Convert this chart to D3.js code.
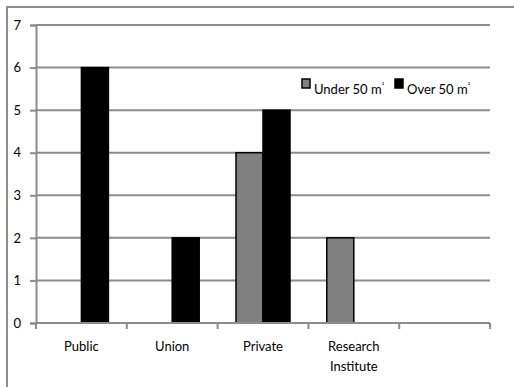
<!DOCTYPE html>
<html>
<head>
<meta charset="utf-8">
<script src="https://cdn.jsdelivr.net/npm/d3@7"></script>
<style>
  html, body { margin: 0; padding: 0; background: #fff; }
  svg { display: block; }
  text { font-family: Lato, "Open Sans", sans-serif; fill: #000; }
</style>
</head>
<body>
<svg id="chart" width="514" height="387"></svg>
<script>
// Number of facilities by type and floor area
const categories = ["Public", "Union", "Private", "Research\nInstitute", ""];
const seriesNames = ["Under 50 m", "Over 50 m"];
const underValues = [0, 0, 4, 2, 0];
const overValues = [6, 2, 5, 0, 0];
const yTicks = [0, 1, 2, 3, 4, 5, 6, 7];

const colors = ["#808080", "#000000"];
const gridColor = "#8c8c8c";

const svg = d3.select("#chart");
const margin = { left: 36, right: 24, top: 25, bottom: 64 };
const width = 514, height = 387;

// outer frame (extends past the right and bottom edges)
svg.append("rect")
  .attr("x", 7).attr("y", 7)
  .attr("width", 520).attr("height", 400)
  .attr("fill", "none")
  .attr("stroke", gridColor)
  .attr("stroke-width", 2);

const x0 = d3.scaleBand()
  .domain(d3.range(categories.length))
  .range([margin.left, width - margin.right])
  .paddingInner(0.405)
  .paddingOuter(0.2025);

const x1 = d3.scaleBand()
  .domain(d3.range(seriesNames.length))
  .range([0, x0.bandwidth()]);

const y = d3.scaleLinear()
  .domain([0, 7])
  .range([height - margin.bottom, margin.top]);

// horizontal gridlines
svg.append("g")
  .selectAll("line")
  .data(yTicks.filter(d => d > 0))
  .join("line")
  .attr("x1", margin.left).attr("x2", width - margin.right)
  .attr("y1", d => y(d)).attr("y2", d => y(d))
  .attr("stroke", gridColor)
  .attr("stroke-width", 2);

// y axis
const yAxis = svg.append("g")
  .attr("transform", `translate(${margin.left},0)`)
  .call(d3.axisLeft(y).tickValues(yTicks).tickSize(6).tickPadding(9).tickFormat(d3.format("d")));
yAxis.select(".domain").attr("stroke", gridColor).attr("stroke-width", 2);
yAxis.selectAll(".tick line").attr("stroke", gridColor).attr("stroke-width", 2);
yAxis.selectAll(".tick text")
  .style("font-family", "Lato, sans-serif")
  .style("font-size", "13px").attr("fill", "#000");

// bars
const rows = categories.map((c, i) => ({ i, values: [underValues[i], overValues[i]] }));
const groups = svg.append("g")
  .selectAll("g")
  .data(rows)
  .join("g")
  .attr("transform", d => `translate(${x0(d.i)},0)`);

groups.selectAll("rect")
  .data(d => d.values.map((v, s) => ({ v, s })).filter(e => e.v > 0))
  .join("rect")
  .attr("x", e => x1(e.s))
  .attr("y", e => y(e.v))
  .attr("width", x1.bandwidth())
  .attr("height", e => y(0) - y(e.v))
  .attr("fill", e => colors[e.s])
  .attr("stroke", "#000")
  .attr("stroke-width", 1.5);

// x axis with ticks between categories
const xAxisG = svg.append("g").attr("transform", `translate(0,${y(0)})`);
const step = x0.step();
const boundaries = d3.range(categories.length + 1).map(i => margin.left + i * step);
xAxisG.append("line")
  .attr("x1", margin.left).attr("x2", width - margin.right)
  .attr("stroke", gridColor).attr("stroke-width", 2);
xAxisG.selectAll(".tk")
  .data(boundaries)
  .join("line")
  .attr("class", "tk")
  .attr("x1", d => d).attr("x2", d => d)
  .attr("y1", 0).attr("y2", 6)
  .attr("stroke", gridColor).attr("stroke-width", 2);

xAxisG.selectAll(".lbl")
  .data(categories.map((c, i) => ({ c, i })))
  .join("text")
  .attr("class", "lbl")
  .attr("text-anchor", "middle")
  .attr("transform", d => `translate(${x0(d.i) + x0.bandwidth() / 2},28)`)
  .style("font-size", "13px")
  .selectAll("tspan")
  .data(d => d.c.split("\n"))
  .join("tspan")
  .attr("x", 0)
  .attr("dy", (t, k) => k === 0 ? 0 : 20)
  .text(t => t);

// legend
const legend = svg.append("g").attr("transform", "translate(302,79)");
const legendOffsets = [0, 93];
seriesNames.forEach((name, s) => {
  const g = legend.append("g").attr("transform", `translate(${legendOffsets[s]},0)`);
  g.append("rect")
    .attr("x", 0).attr("y", 0).attr("width", 8).attr("height", 9)
    .attr("fill", colors[s]).attr("stroke", "#000").attr("stroke-width", 1.5);
  const t = g.append("text")
    .attr("x", 12).attr("y", 15)
    .style("font-size", "13px")
    .text(name);
  t.append("tspan")
    .attr("dy", -6)
    .style("font-size", "7px")
    .text("²");
});
</script>
</body>
</html>
